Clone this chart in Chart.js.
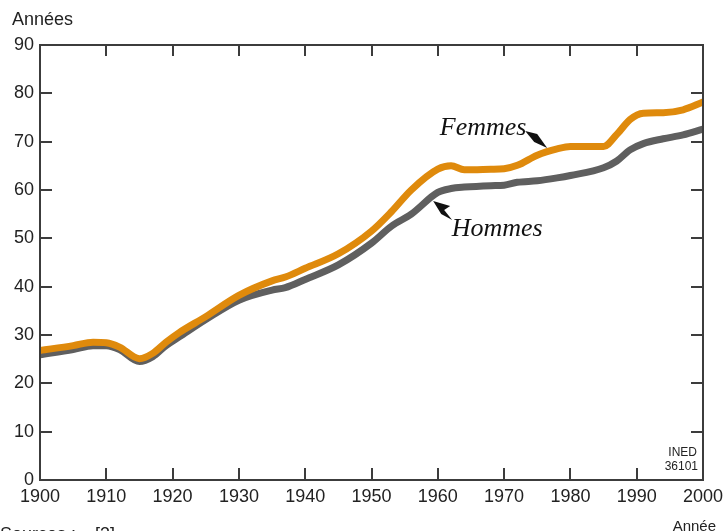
<!DOCTYPE html>
<html><head><meta charset="utf-8">
<script src="https://cdn.jsdelivr.net/npm/chart.js@4/dist/chart.umd.min.js"></script>
<style>html,body{margin:0;padding:0;background:#fff}canvas{display:block}</style>
</head><body>
<canvas id="c" width="724" height="531"></canvas>
<script>
const years   = [1900,1905,1908,1910,1912,1915,1917,1919,1921,1925,1930,1935,1937,1940,1945,1950,1953,1956,1960,1962,1964,1968,1970,1972,1975,1978,1980,1985,1987,1989,1991,1994,1997,2000];
const femmes  = [26.8,27.8,28.5,28.4,27.5,25.1,26.2,28.5,30.5,33.8,38.2,41.2,42.0,43.8,46.8,51.5,55.5,60.0,64.3,65.0,64.2,64.3,64.4,65.1,67.2,68.5,69.0,69.0,71.5,74.6,75.9,76.0,76.6,78.2];
const hommes  = [25.9,27.0,27.8,27.8,27.0,24.5,25.5,27.8,29.6,33.2,37.2,39.3,39.8,41.5,44.5,49.0,52.5,55.0,59.5,60.3,60.6,60.9,61.0,61.6,61.9,62.5,63.0,64.6,66.0,68.3,69.6,70.6,71.4,72.6];
const xTicks  = [1900,1910,1920,1930,1940,1950,1960,1970,1980,1990,2000];
const yTicks  = [0,10,20,30,40,50,60,70,80,90];
const seriesNames = ['Femmes','Hommes'];

const toPts = (arr) => years.map((y,i)=>({x:y,y:arr[i]}));

const frame = {
  id:'frame',
  afterDraw(chart){
    const {ctx, chartArea:a, scales:{x,y}} = chart;
    ctx.save();
    ctx.strokeStyle='#3c3c3c'; ctx.lineWidth=2;
    ctx.strokeRect(a.left, a.top, a.right-a.left, a.bottom-a.top);
    ctx.beginPath();
    xTicks.slice(1,-1).forEach(v=>{
      const px=Math.round(x.getPixelForValue(v));
      ctx.moveTo(px,a.bottom); ctx.lineTo(px,a.bottom-12);
      ctx.moveTo(px,a.top); ctx.lineTo(px,a.top+11);
    });
    yTicks.slice(1,-1).forEach(v=>{
      const py=Math.round(y.getPixelForValue(v));
      ctx.moveTo(a.left,py); ctx.lineTo(a.left+12,py);
      ctx.moveTo(a.right,py); ctx.lineTo(a.right-12,py);
    });
    ctx.stroke();
    // texts
    ctx.fillStyle='#222';
    ctx.font='18px "Liberation Sans", Arial, sans-serif';
    ctx.textBaseline='middle'; ctx.textAlign='left';
    ctx.fillText('Années', 12, 20);
    ctx.font='15px "Liberation Sans", Arial, sans-serif';
    ctx.textAlign='right';
    ctx.fillText('Année', 716, 527);
    ctx.font='12px "Liberation Sans", Arial, sans-serif';
    ctx.fillText('INED', a.right-6, 453);
    ctx.fillText('36101', a.right-5, 467);
    ctx.font='18px "Liberation Sans", Arial, sans-serif';
    ctx.textAlign='left'; ctx.textBaseline='top';
    ctx.fillText('Sources :', 0, 526);
    ctx.fillText('[3]', 95, 526);
    // series labels with pointers
    ctx.fillStyle='#111';
    ctx.font='italic 26px "Liberation Serif", "Times New Roman", serif';
    ctx.textBaseline='middle';
    const fx=x.getPixelForValue(1960.3), fy=y.getPixelForValue(72.8);
    ctx.fillText(seriesNames[0], fx, fy);
    const hx=x.getPixelForValue(1962.1), hy=y.getPixelForValue(51.9);
    ctx.fillText(seriesNames[1], hx, hy);
    // Femmes pointer
    const ftx=x.getPixelForValue(1976.5), fty=y.getPixelForValue(68.7);
    ctx.beginPath();
    ctx.moveTo(ftx-22, fty-17);
    ctx.lineTo(ftx-10, fty-14);
    ctx.lineTo(ftx, fty);
    ctx.lineTo(ftx-13, fty-6);
    ctx.closePath(); ctx.fill();
    // Hommes pointer
    const htx=x.getPixelForValue(1959.3), hty=y.getPixelForValue(57.7);
    ctx.beginPath();
    ctx.moveTo(htx, hty);
    ctx.lineTo(htx+17, hty+5);
    ctx.lineTo(htx+11, hty+9);
    ctx.lineTo(htx+19, hty+19);
    ctx.lineTo(htx+8, hty+13);
    ctx.closePath(); ctx.fill();
    ctx.restore();
  }
};

new Chart(document.getElementById('c'), {
  type:'line',
  data:{datasets:[
    {label:seriesNames[0], data:toPts(femmes), borderColor:'#DF8A0C', borderWidth:7, pointRadius:0, cubicInterpolationMode:'monotone', borderCapStyle:'round', borderJoinStyle:'round', order:0},
    {label:seriesNames[1], data:toPts(hommes), borderColor:'#5f5f5f', borderWidth:7, pointRadius:0, cubicInterpolationMode:'monotone', borderCapStyle:'round', borderJoinStyle:'round', order:1}
  ]},
  options:{
    responsive:false, animation:false, devicePixelRatio:1,
    layout:{padding:{top:45,right:21,left:0,bottom:0}},
    plugins:{legend:{display:false}, tooltip:{enabled:false}},
    scales:{
      x:{type:'linear', min:1900, max:2000,
         afterFit(s){s.height=51; s.paddingLeft=0; s.paddingRight=0;},
         afterBuildTicks(s){s.ticks=xTicks.map(v=>({value:v}));},
         grid:{display:false, drawTicks:false}, border:{display:false},
         ticks:{autoSkip:false, maxRotation:0, padding:6, color:'#222',
                font:{family:'"Liberation Sans", Arial, sans-serif', size:18},
                callback:(v)=>String(v)}},
      y:{min:0, max:90,
         afterFit(s){s.width=40; s.paddingTop=0; s.paddingBottom=0;},
         afterBuildTicks(s){s.ticks=yTicks.map(v=>({value:v}));},
         grid:{display:false, drawTicks:false}, border:{display:false},
         ticks:{padding:6, color:'#222',
                font:{family:'"Liberation Sans", Arial, sans-serif', size:18},
                callback:(v)=>String(v)}}
    }
  },
  plugins:[frame]
});
</script>
</body></html>
